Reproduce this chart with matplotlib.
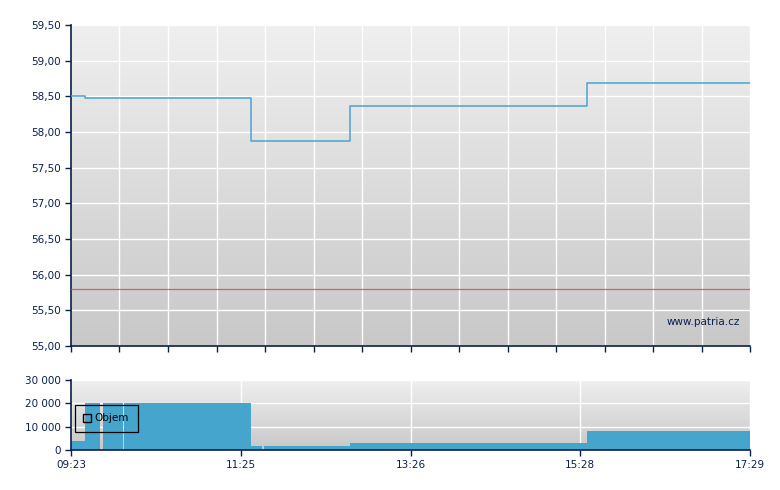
import numpy as np
import matplotlib
matplotlib.use("Agg")
import matplotlib.pyplot as plt
from matplotlib.patches import Rectangle
from matplotlib.ticker import FuncFormatter

# price steps (time of change, price)
price_times = ["09:23", "09:33", "11:32", "12:43", "15:32", "17:29"]
price_values = [58.51, 58.47, 57.87, 58.36, 58.68, 58.68]
reference_price = 55.80

# volume bars (start, end, volume)
vol_starts = ["09:23", "09:33", "09:46", "10:01", "11:32", "11:41", "12:43", "15:32"]
vol_ends = ["09:33", "09:44", "10:00", "11:32", "11:40", "12:43", "15:32", "17:29"]
vol_values = [4000, 20000, 20000, 20000, 1700, 1700, 3000, 8100]

time_labels = ["09:23", "11:25", "13:26", "15:28", "17:29"]

NAVY = "#0b1f4f"
BLUE = "#46a5cd"


def to_min(t):
    h, m = t.split(":")
    return int(h) * 60 + int(m)


t0, t1 = to_min("09:23"), to_min("17:29")

plt.rcParams["font.family"] = ["DejaVu Sans"]
fig = plt.figure(figsize=(7.8, 4.9), dpi=100)
ax = fig.add_axes([71 / 780, 1 - 346 / 490, 679 / 780, 321 / 490])
axv = fig.add_axes([71 / 780, 1 - 450 / 490, 679 / 780, 70 / 490])

grad = np.linspace(0, 1, 256).reshape(-1, 1)
cmap = matplotlib.colors.LinearSegmentedColormap.from_list("bg", ["#efefef", "#c8c8c8"])


def style(a):
    a.imshow(grad, cmap=cmap, aspect="auto", extent=[0, 1, 0, 1], transform=a.transAxes, zorder=0)
    for s in ["top", "right"]:
        a.spines[s].set_visible(False)
    for s in ["left", "bottom"]:
        a.spines[s].set_color(NAVY)
        a.spines[s].set_linewidth(1.2)
    a.tick_params(colors=NAVY, labelsize=7.5, length=4, width=1, direction="out")
    a.set_axisbelow(False)


style(ax)
style(axv)

# price panel
pt = [to_min(t) for t in price_times]
ax.step(pt, price_values, where="post", color="#4ba3cc", lw=1.1, zorder=3)
ax.axhline(reference_price, color="#c0504d", lw=0.9, alpha=0.8, zorder=3)
ax.set_xlim(t0, t1)
ax.set_ylim(55.0, 59.5)
ax.set_yticks(np.arange(55.0, 59.51, 0.5))
ax.yaxis.set_major_formatter(FuncFormatter(lambda v, p: f"{v:.2f}".replace(".", ",")))
xt = np.linspace(t0, t1, 15)
ax.set_xticks(xt)
ax.set_xticklabels([])
for y in np.arange(55.5, 59.51, 0.5):
    ax.axhline(y, color="white", lw=1, zorder=1)
for x in xt[1:]:
    ax.axvline(x, color="white", lw=1, zorder=1)
ax.text(0.985, 0.06, "www.patria.cz", transform=ax.transAxes, ha="right", va="bottom",
        color=NAVY, fontsize=7.5, zorder=4)

# volume panel
vs = [to_min(t) for t in vol_starts]
ve = [to_min(t) for t in vol_ends]
widths = [e - s for s, e in zip(vs, ve)]
vx = np.linspace(t0, t1, 5)
for y in [10000, 20000, 30000]:
    axv.axhline(y, color="white", lw=1, zorder=1)
for x in vx[1:]:
    axv.axvline(x, color="white", lw=1, zorder=1)
axv.bar(vs, vol_values, width=widths, align="edge", color=BLUE, lw=0, zorder=2)
axv.set_xlim(t0, t1)
axv.set_ylim(0, 30000)
axv.set_yticks([0, 10000, 20000, 30000])
axv.yaxis.set_major_formatter(FuncFormatter(lambda v, p: f"{int(v):,}".replace(",", " ")))
axv.set_xticks(vx)
axv.set_xticklabels(time_labels)

handle = Rectangle((0, 0), 1, 1, facecolor="none", edgecolor="black", lw=1)
leg = axv.legend([handle], ["Objem"], loc="upper left", bbox_to_anchor=(0.006, 0.643),
                 frameon=True, fancybox=False, facecolor="none", edgecolor="black",
                 fontsize=7.5, handlelength=0.75, handleheight=0.75, handletextpad=0.35,
                 borderpad=0.8, borderaxespad=0)
leg.get_frame().set_linewidth(0.9)
leg.get_frame().set_alpha(None)
leg.set_zorder(5)

fig.savefig("out.png", dpi=100)
